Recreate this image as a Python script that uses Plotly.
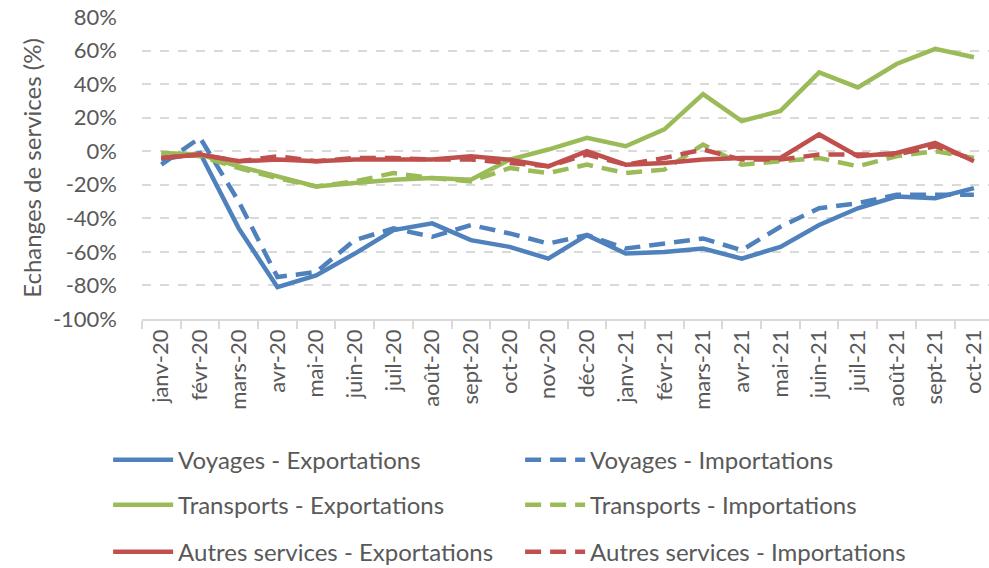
import plotly.graph_objects as go

months = ["janv-20", "févr-20", "mars-20", "avr-20", "mai-20", "juin-20", "juil-20",
          "août-20", "sept-20", "oct-20", "nov-20", "déc-20", "janv-21", "févr-21",
          "mars-21", "avr-21", "mai-21", "juin-21", "juil-21", "août-21", "sept-21", "oct-21"]

voyages_exp = [-5, -1, -46, -81, -74, -61, -47, -43, -53, -57, -64, -50, -61, -60,
               -58, -64, -57, -44, -34, -27, -28, -22]
voyages_imp = [-8, 8, -30, -75, -72, -53, -46, -51, -44, -49, -55, -50, -58, -55,
               -52, -59, -45, -34, -31, -26, -26, -26]
transports_exp = [-1, -2, -9, -15, -21, -19, -17, -16, -17, -5, 1, 8, 3, 13,
                  34, 18, 24, 47, 38, 52, 61, 56]
transports_imp = [-1, -3, -10, -16, -21, -18, -13, -16, -18, -10, -13, -8, -13, -11,
                  4, -8, -6, -4, -9, -3, 0, -4]
autres_exp = [-4, -2, -6, -5, -6, -5, -5, -5, -3, -5, -9, 0, -8, -7,
              -5, -4, -4, 10, -3, -1, 5, -6]
autres_imp = [-4, -2, -6, -3, -6, -4, -4, -5, -5, -7, -9, -2, -8, -4,
              1, -5, -5, -2, -2, -2, 3, -5]

ytick_vals = [80, 60, 40, 20, 0, -20, -40, -60, -80, -100]
ytick_text = ["80%", "60%", "40%", "20%", "0%", "-20%", "-40%", "-60%", "-80%", "-100%"]

BLUE = "#4f81bd"
GREEN = "#9bbb59"
RED = "#c0504d"
DASH = "16px,9px"
FONT = "Lato"
GREY = "#595959"

series = [
    ("Voyages - Exportations", voyages_exp, BLUE, "solid", "legend"),
    ("Voyages - Importations", voyages_imp, BLUE, DASH, "legend"),
    ("Transports - Exportations", transports_exp, GREEN, "solid", "legend2"),
    ("Transports - Importations", transports_imp, GREEN, DASH, "legend2"),
    ("Autres services - Exportations", autres_exp, RED, "solid", "legend3"),
    ("Autres services - Importations", autres_imp, RED, DASH, "legend3"),
]

fig = go.Figure()
for name, vals, color, dash, leg in series:
    fig.add_trace(go.Scatter(
        x=months, y=vals, name=name, mode="lines",
        line=dict(color=color, width=4.5, dash=dash),
        legend=leg,
    ))

def legend_cfg(ypos):
    return dict(
        orientation="h", x=-0.04, xanchor="left", y=ypos, yanchor="middle",
        entrywidth=337, entrywidthmode="pixels",
        font=dict(family=FONT, size=24, color=GREY),
        bgcolor="rgba(0,0,0,0)", itemwidth=60,
    )

fig.update_layout(
    width=989, height=568,
    margin=dict(l=142, r=0, t=17, b=249, autoexpand=False),
    plot_bgcolor="white", paper_bgcolor="white",
    font=dict(family=FONT, color=GREY),
    legend=legend_cfg(-0.467),
    legend2=legend_cfg(-0.616),
    legend3=legend_cfg(-0.772),
    xaxis=dict(
        type="category", range=[-0.5, 21.39], automargin=False,
        tickangle=-90, tickfont=dict(family=FONT, size=22, color=GREY),
        showgrid=False, showline=True, linecolor="#d9d9d9", linewidth=1.5,
        ticks="outside", tickson="boundaries", ticklen=8, tickcolor="#d9d9d9",
        tickwidth=1.5,
    ),
    yaxis=dict(
        range=[-100, 80], tickvals=ytick_vals, ticktext=ytick_text, automargin=False,
        tickfont=dict(family=FONT, size=22, color=GREY),
        showgrid=True, gridcolor="#d9d9d9", gridwidth=1.5, griddash="dash",
        zeroline=False, showline=False, ticks="", ticklabelstandoff=24,
        title=dict(text="Echanges de services (%)", font=dict(family=FONT, size=24, color=GREY),
                   standoff=4),
    ),
)

fig.write_html("out.html", config={"displayModeBar": False},
               post_script="document.body.style.margin='0';")
